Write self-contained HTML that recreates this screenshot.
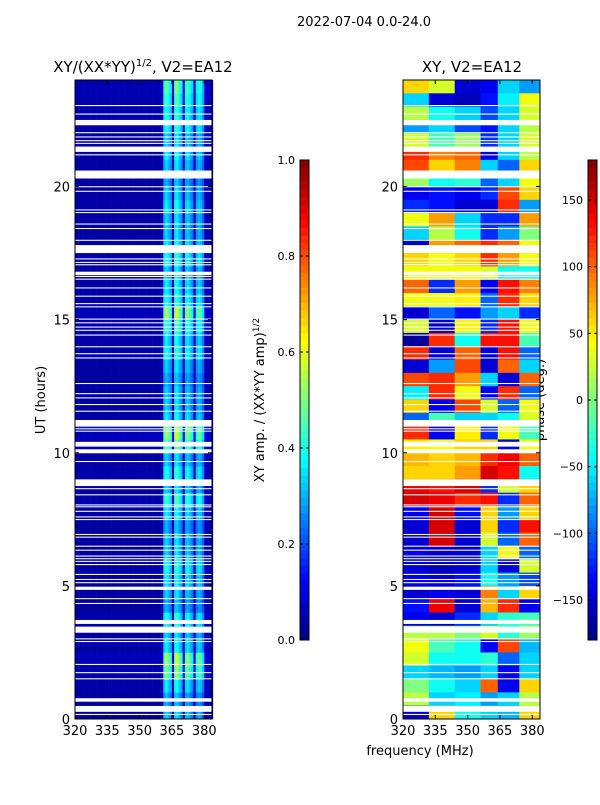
<!DOCTYPE html>
<html><head><meta charset="utf-8"><style>
body{margin:0;background:#fff;}
svg{font-family:"DejaVu Sans","Liberation Sans",sans-serif;}
</style></head><body>
<svg id="fig" width="600" height="800" xmlns="http://www.w3.org/2000/svg">
<rect width="600" height="800" fill="#fff"/>
<text x="364" y="26" font-size="13" text-anchor="middle">2022-07-04 0.0-24.0</text>
<text x="143" y="72" font-size="15" text-anchor="middle">XY/(XX*YY)<tspan font-size="10" dy="-6">1/2</tspan><tspan dy="6">, V2=EA12</tspan></text>
<text x="472" y="72" font-size="15" text-anchor="middle">XY, V2=EA12</text>
<text transform="translate(45,400) rotate(-90)" font-size="13" text-anchor="middle">UT (hours)</text>
<text x="420" y="755" font-size="13" text-anchor="middle">frequency (MHz)</text>
<text transform="translate(264,400) rotate(-90)" font-size="13" text-anchor="middle">XY amp. / (XX*YY amp)<tspan font-size="9" dy="-5">1/2</tspan></text>
<text transform="translate(544,400) rotate(-90)" font-size="13" text-anchor="middle">phase (deg.)</text>
<g id="amp"></g>
<g id="pha"></g>
<g id="axes"></g>
<g id="cbars"></g>
</svg>
<script>
// amplitude frequency profile, 1 MHz bins 320..383
const ampProfile = [0.035,0.035,0.035,0.035,0.035,0.035,0.035,0.035,0.035,0.035,0.035,0.035,0.035,0.035,0.035,0.035,0.035,0.035,0.035,0.035,
0.035,0.035,0.035,0.035,0.035,0.035,0.035,0.035,0.035,0.035,0.035,0.035,0.035,0.035,0.035,0.035,0.035,0.035,0.035,0.035,0.05,
0.3,0.34,0.3,0.26,0.06,0.34,0.36,0.3,0.26,0.06,0.3,0.32,0.28,0.24,0.06,0.26,0.3,0.28,0.22,0.06,0.05,0.05,0.05];
// amplitude row gains, 0.5 h rows from 0 h upward
const ampGain = [1.0,0.9,1.1,1.5,1.6,1.1,1.0,1.2,0.9,1.0,1.1,1.2,1.0,1.0,0.9,1.1,1.3,1.0,1.2,1.0,
1.4,1.6,1.1,1.0,1.0,0.9,1.0,1.2,1.1,1.3,1.6,1.2,1.1,1.0,1.2,1.1,1.0,1.0,1.1,1.0,0.9,1.0,1.1,1.0,1.2,1.2,1.3,1.4];
// phase grid: 0.5 h rows listed from 24 h downward; columns = freq bins
const phaseBins = [320,332,344,356,364,374,384];
const phaseRows = [
[60,30,-150,-140,-60,-80],[-60,-150,-160,-130,-50,40],[20,-40,-60,-110,-60,30],[-80,-60,-110,-130,-60,20],
[30,-20,10,-120,-60,30],[120,90,100,-140,-60,20],[110,60,90,-60,-100,60],[10,-40,-30,-100,-60,40],
[-140,-130,-140,-120,110,60],[-120,-130,-150,-150,120,-80],[40,80,-60,-120,-120,80],[-60,20,-40,-120,-80,0],
[-150,80,100,120,100,40],[60,40,60,120,80,40],[40,40,40,30,-40,-40],[100,-120,80,-140,130,90],
[40,40,50,-100,120,60],[-150,-100,-130,-80,-60,-120],[30,-150,50,-120,130,40],[-170,120,-40,130,130,-20],
[120,-150,100,-150,130,-100],[-150,-80,110,-150,100,-60],[110,120,80,-60,-150,100],[-50,120,40,-140,120,-100],
[60,-140,110,30,-100,40],[-100,-20,-60,-60,-40,30],[120,-140,50,-120,40,-20],[50,40,60,60,-140,40],
[70,60,70,120,140,100],[60,60,80,150,130,-40],[140,130,150,-120,30,60],[150,140,120,130,-120,100],
[-140,150,-130,60,-80,60],[-150,150,-150,60,-120,130],[-150,150,-150,30,-100,100],[-140,-150,-150,-60,40,-100],
[-150,-160,-150,-60,-150,30],[-140,-150,-130,-40,-80,-110],[-150,-140,-150,90,-60,60],[-130,140,-150,70,120,-140],
[-140,-150,-120,-60,-30,-20],[20,20,0,30,-30,10],[40,-20,-40,-140,110,-70],[30,-40,-40,-30,-100,-60],
[-60,-70,-80,-60,-140,-60],[0,-40,-60,100,-140,60],[20,-60,-50,-80,-60,20],[-150,60,-40,-60,-70,60]];
// flagged (blank) time intervals in hours [start,end]
const flagStart = [0.15,0.27,0.65,1.49,1.72,2.03,2.89,2.99,3.24,3.57,4.32,4.5,4.85,5.1,5.22,5.41,5.78,5.9,6.0,6.1,6.32,6.47,6.81,6.91,7.47,7.57,7.78,7.95,8.02,8.4,8.63,8.75,9.65,9.98,10.23,10.79,10.88,10.98,11.54,11.79,
12.04,12.2,12.58,13.54,13.7,13.96,14.4,14.58,14.7,14.86,15.0,15.46,15.58,15.86,16.17,16.5,16.6,16.67,17.04,17.13,17.26,17.5,17.96,18.4,18.57,19.0,19.1,19.8,19.97,20.3,21.17,21.3,21.6,21.7,21.84,22.0,22.3,22.7,23.02];
const flagEnd = [0.19,0.49,0.78,1.53,1.76,2.07,2.93,3.03,3.47,3.72,4.36,4.54,4.97,5.14,5.26,5.45,5.82,5.94,6.04,6.14,6.36,6.51,6.85,6.95,7.51,7.61,7.82,7.99,8.06,8.44,8.67,9.0,9.69,10.13,10.41,10.83,10.92,11.23,11.58,11.83,
12.08,12.24,12.62,13.58,13.74,14.0,14.44,14.62,14.74,14.9,15.04,15.5,15.62,15.9,16.21,16.54,16.64,16.8,17.08,17.17,17.3,17.8,18.0,18.44,18.61,19.04,19.14,19.84,20.01,20.6,21.21,21.5,21.64,21.74,21.88,22.04,22.5,22.74,23.06];
const xTicks = [320,335,350,365,380];
const yTicks = [0,5,10,15,20];
const ampTicks = [0.0,0.2,0.4,0.6,0.8,1.0];
const phaseTicks = [-150,-100,-50,0,50,100,150];

const NS="http://www.w3.org/2000/svg";
const PANELS=[{x0:75},{x0:403}];
const PW=137, PY0=80, PY1=719, F0=320, F1=383.6, H1=24;
function xs(f,x0){return x0+(f-F0)/(F1-F0)*PW;}
function ys(h){return PY1-h/H1*(PY1-PY0);}
function jet(v){
  v=Math.max(0,Math.min(1,v));
  const r=Math.max(0,Math.min(1,1.5-Math.abs(4*v-3)));
  const g=Math.max(0,Math.min(1,1.5-Math.abs(4*v-2)));
  const b=Math.max(0,Math.min(1,1.5-Math.abs(4*v-1)));
  return `rgb(${Math.round(r*255)},${Math.round(g*255)},${Math.round(b*255)})`;
}
function mk(tag,attrs,parent){const e=document.createElementNS(NS,tag);for(const k in attrs)e.setAttribute(k,attrs[k]);parent.appendChild(e);return e;}

const amp=document.getElementById('amp');
ampGain.forEach((g,ri)=>{
  const yA=ys((ri+1)*0.5), yB=ys(ri*0.5);
  ampProfile.forEach((p,ci)=>{
    const r=mk('rect',{x:xs(F0+ci,75),y:yA,width:PW/(F1-F0)+0.3,height:yB-yA+0.3,fill:jet(p*g)},amp);
    
    
  });
});
const pha=document.getElementById('pha');
phaseRows.forEach((row,ri)=>{
  const hTop=24-ri*0.5, hBot=hTop-0.5;
  row.forEach((v,ci)=>{
    const xa=xs(phaseBins[ci],403), xb=Math.min(xs(phaseBins[ci+1],403),540);
    const r=mk('rect',{x:xa,y:ys(hTop),width:xb-xa+0.3,height:ys(hBot)-ys(hTop)+0.3,fill:jet((v+180)/360)},pha);
    
    
  });
});
const axes=document.getElementById('axes');
PANELS.forEach(P=>{
  flagStart.forEach((s,i)=>{
    const r=mk('rect',{x:P.x0,y:ys(flagEnd[i]),width:PW,height:ys(s)-ys(flagEnd[i]),fill:'#fff'},axes);
    
    
  });
  const fr=mk('rect',{x:P.x0,y:PY0,width:PW,height:PY1-PY0,fill:'none',stroke:'#000','stroke-width':1},axes);
  
  
  xTicks.forEach(t=>{
    const x=xs(t,P.x0);
    mk('line',{x1:x,x2:x,y1:PY1,y2:PY1-4,stroke:'#000'},axes);
    mk('line',{x1:x,x2:x,y1:PY0,y2:PY0+4,stroke:'#000'},axes);
    const tx=mk('text',{x:x,y:PY1+16,'font-size':13,'text-anchor':'middle'},axes);
    tx.textContent=t;
    
    
  });
  yTicks.forEach(t=>{
    const y=ys(t);
    mk('line',{x1:P.x0,x2:P.x0+4,y1:y,y2:y,stroke:'#000'},axes);
    mk('line',{x1:P.x0+PW,x2:P.x0+PW-4,y1:y,y2:y,stroke:'#000'},axes);
    const tx=mk('text',{x:P.x0-5,y:y+5,'font-size':13,'text-anchor':'end'},axes);
    tx.textContent=t;
    
    
  });
});
const cb=document.getElementById('cbars');
function colorbar(x,vmin,vmax,ticks,fmt,name){
  const y0=160,y1=640,n=64;
  for(let i=0;i<n;i++){
    const r=mk('rect',{x:x,y:y1-(i+1)*(y1-y0)/n,width:9,height:(y1-y0)/n+0.5,fill:jet((i+0.5)/n)},cb);
    
    
  }
  mk('rect',{x:x,y:y0,width:9,height:y1-y0,fill:'none',stroke:'#000'},cb);
  ticks.forEach(t=>{
    const y=y1-(t-vmin)/(vmax-vmin)*(y1-y0);
    mk('line',{x1:x,x2:x+3,y1:y,y2:y,stroke:'#000'},cb);
    mk('line',{x1:x+9,x2:x+6,y1:y,y2:y,stroke:'#000'},cb);
    const tx=mk('text',{x:x-5,y:y+4,'font-size':11,'text-anchor':'end'},cb);
    tx.textContent=fmt(t);
    
    
  });
}
colorbar(300,0,1,ampTicks,t=>t.toFixed(1),'amp-colorbar');
colorbar(588,-180,180,phaseTicks,t=>t<0?'\u2212'+(-t):String(t),'phase-colorbar');
</script>
</body></html>
